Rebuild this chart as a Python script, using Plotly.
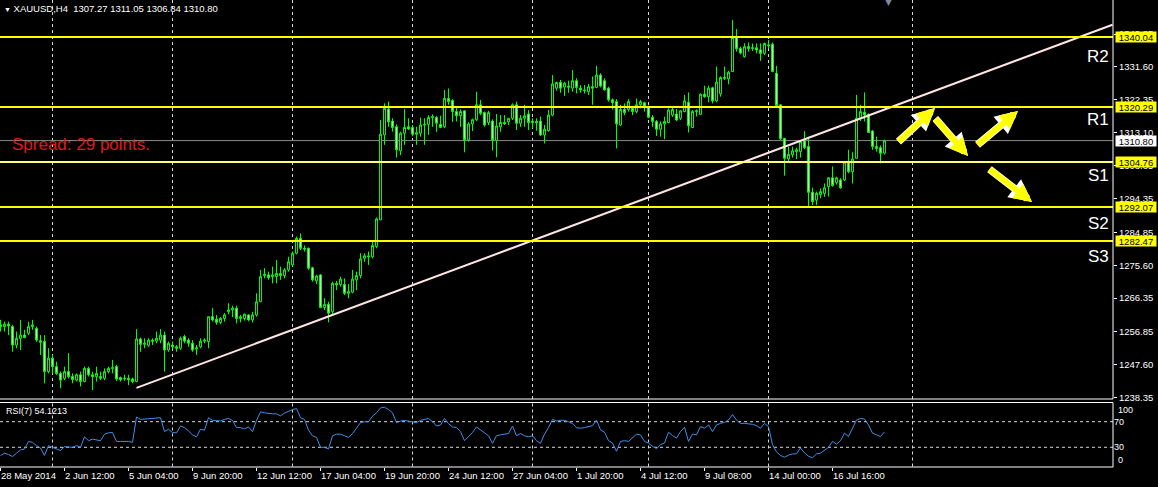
import plotly.graph_objects as go

# ---------------- data ----------------
open_ = [
    1258.8, 1258.3, 1259.0, 1258.3, 1253.1, 1255.0, 1255.9, 1256.4, 1258.3, 1257.8,
    1254.3, 1254.1, 1245.6, 1249.4, 1247.0, 1245.1, 1243.7, 1245.6, 1244.2, 1243.2,
    1244.7, 1242.8, 1246.5, 1244.7, 1244.2, 1244.2, 1243.7, 1245.6, 1246.5, 1247.0,
    1243.9, 1243.5, 1243.7, 1243.5, 1242.8, 1254.8, 1253.3, 1253.0, 1254.5, 1254.2,
    1254.5, 1255.9, 1251.7, 1253.1, 1252.6, 1252.2, 1255.5, 1254.5, 1253.6, 1252.0,
    1252.6, 1254.2, 1254.1, 1261.1, 1260.4, 1259.5, 1260.6, 1262.5, 1263.0, 1263.5,
    1260.6, 1260.6, 1261.6, 1260.2, 1261.6, 1265.3, 1272.7, 1272.9, 1272.4, 1272.4,
    1273.3, 1272.7, 1274.3, 1275.7, 1279.0, 1283.2, 1280.4, 1280.4, 1274.9, 1271.2,
    1272.9, 1263.7, 1264.6, 1262.5, 1270.5, 1270.2, 1270.2, 1267.7, 1268.0, 1271.5,
    1272.7, 1277.6, 1278.0, 1278.0, 1280.9, 1288.4, 1312.4, 1319.7, 1316.3, 1314.7,
    1307.9, 1312.9, 1314.7, 1314.5, 1312.6, 1312.9, 1315.2, 1315.4, 1317.3, 1317.3,
    1315.4, 1314.7, 1322.7, 1322.1, 1319.0, 1317.8, 1319.2, 1311.0, 1315.5, 1316.7,
    1320.9, 1318.7, 1315.9, 1316.3, 1310.8, 1314.7, 1315.9, 1316.1, 1317.1, 1320.9,
    1315.7, 1317.1, 1318.3, 1315.9, 1316.2, 1316.3, 1312.4, 1313.6, 1318.0, 1325.6,
    1327.2, 1325.9, 1326.2, 1325.6, 1327.7, 1325.6, 1325.1, 1324.6, 1326.0, 1325.8,
    1329.3, 1327.7, 1325.6, 1322.3, 1321.8, 1315.2, 1319.6, 1319.6, 1319.9, 1319.0,
    1320.9, 1321.5, 1320.4, 1317.4, 1316.2, 1314.0, 1315.5, 1315.9, 1318.0, 1318.3,
    1317.1, 1319.0, 1321.6, 1314.5, 1319.0, 1318.2, 1323.9, 1323.2, 1325.7, 1322.0,
    1324.0, 1328.6, 1328.2, 1330.3, 1339.9, 1336.8, 1334.5, 1337.3, 1336.8, 1337.0,
    1336.4, 1335.4, 1337.8, 1338.0, 1329.8, 1320.9, 1311.4, 1305.6, 1306.8, 1307.7,
    1307.7, 1310.7, 1309.1, 1296.2, 1294.0, 1295.5, 1295.9, 1297.8, 1300.3, 1299.0,
    1299.7, 1299.7, 1304.9, 1302.0, 1305.8, 1317.1, 1318.8, 1318.2, 1313.5, 1309.1,
    1308.8, 1307.27,
]
high = [
    1260.2, 1259.7, 1259.7, 1258.8, 1256.9, 1260.2, 1257.4, 1259.7, 1260.2, 1258.3,
    1255.9, 1255.9, 1252.2, 1250.3, 1248.4, 1245.6, 1247.0, 1250.8, 1245.1, 1245.1,
    1245.6, 1247.0, 1247.0, 1245.6, 1247.0, 1245.6, 1246.5, 1247.0, 1248.9, 1247.5,
    1244.2, 1244.7, 1244.7, 1243.9, 1257.6, 1255.2, 1255.0, 1255.0, 1255.0, 1256.9,
    1257.6, 1256.9, 1254.1, 1254.1, 1253.1, 1255.5, 1256.0, 1255.0, 1254.5, 1253.1,
    1255.0, 1255.0, 1261.1, 1263.5, 1261.6, 1261.0, 1262.1, 1264.9, 1264.2, 1264.2,
    1261.6, 1262.0, 1261.8, 1262.5, 1267.7, 1274.3, 1274.8, 1273.8, 1275.2, 1277.1,
    1275.2, 1274.8, 1278.0, 1279.5, 1283.7, 1284.6, 1281.2, 1280.6, 1275.2, 1272.9,
    1273.1, 1266.3, 1265.3, 1271.0, 1271.2, 1272.4, 1271.9, 1270.3, 1274.3, 1273.8,
    1279.0, 1279.0, 1279.5, 1282.3, 1289.1, 1316.6, 1321.3, 1321.8, 1317.1, 1315.4,
    1313.3, 1319.7, 1317.1, 1315.2, 1314.7, 1317.3, 1317.1, 1318.0, 1318.2, 1317.8,
    1317.8, 1325.1, 1325.5, 1322.5, 1320.4, 1319.6, 1319.4, 1316.0, 1317.0, 1324.6,
    1322.3, 1319.0, 1319.2, 1316.8, 1318.3, 1318.0, 1318.0, 1317.1, 1321.3, 1321.8,
    1318.0, 1320.9, 1319.4, 1317.1, 1317.1, 1317.6, 1315.2, 1319.4, 1329.3, 1327.4,
    1327.9, 1327.4, 1327.7, 1330.7, 1328.4, 1326.5, 1326.5, 1326.8, 1328.9, 1331.9,
    1329.8, 1328.4, 1326.0, 1322.7, 1322.5, 1320.9, 1321.3, 1322.5, 1320.4, 1322.7,
    1322.3, 1321.8, 1320.6, 1318.0, 1316.6, 1316.2, 1317.5, 1319.9, 1320.0, 1319.7,
    1319.4, 1323.7, 1324.4, 1319.4, 1319.6, 1324.1, 1326.3, 1326.3, 1326.0, 1331.7,
    1328.9, 1331.7, 1330.5, 1344.8, 1342.3, 1337.3, 1338.3, 1338.5, 1338.2, 1338.2,
    1338.2, 1338.5, 1339.2, 1338.5, 1331.9, 1321.0, 1311.6, 1309.1, 1309.1, 1308.8,
    1310.9, 1313.5, 1311.9, 1297.5, 1296.4, 1297.3, 1298.7, 1300.5, 1303.5, 1300.6,
    1300.2, 1304.9, 1308.2, 1307.5, 1323.7, 1320.9, 1324.4, 1318.5, 1313.8, 1311.9,
    1309.4, 1311.05,
]
low = [
    1256.9, 1256.9, 1255.9, 1251.2, 1252.2, 1251.7, 1255.0, 1255.9, 1257.4, 1254.0,
    1250.3, 1242.3, 1245.1, 1245.1, 1244.7, 1240.9, 1243.2, 1243.7, 1242.3, 1242.8,
    1241.4, 1242.6, 1244.2, 1240.4, 1242.8, 1243.2, 1243.2, 1245.1, 1245.1, 1242.9,
    1242.8, 1243.0, 1241.8, 1242.3, 1242.6, 1251.2, 1252.2, 1252.6, 1253.1, 1253.6,
    1253.6, 1245.6, 1251.2, 1252.0, 1251.2, 1251.7, 1253.6, 1252.6, 1251.2, 1250.3,
    1252.2, 1253.6, 1252.2, 1259.7, 1258.8, 1259.0, 1259.7, 1261.8, 1261.0, 1259.2,
    1259.5, 1260.0, 1259.8, 1259.5, 1261.1, 1265.3, 1271.9, 1271.5, 1270.5, 1270.5,
    1271.5, 1271.9, 1273.8, 1275.2, 1278.7, 1279.9, 1279.5, 1274.3, 1271.0, 1270.3,
    1263.5, 1263.0, 1259.5, 1261.6, 1268.6, 1269.6, 1267.2, 1266.3, 1267.7, 1268.6,
    1271.9, 1276.6, 1275.7, 1277.6, 1280.4, 1288.4, 1309.6, 1314.7, 1313.3, 1306.0,
    1306.7, 1309.6, 1313.8, 1312.0, 1309.6, 1311.9, 1309.6, 1312.4, 1314.7, 1313.3,
    1314.3, 1314.3, 1320.9, 1316.1, 1316.2, 1314.7, 1307.5, 1310.5, 1313.5, 1316.3,
    1318.0, 1314.7, 1315.2, 1308.0, 1306.1, 1313.3, 1315.2, 1315.2, 1316.6, 1313.8,
    1314.7, 1314.7, 1313.8, 1314.3, 1313.6, 1312.1, 1310.0, 1313.3, 1317.7, 1324.9,
    1324.3, 1323.4, 1324.3, 1324.6, 1324.1, 1324.3, 1324.1, 1323.7, 1320.9, 1325.6,
    1325.8, 1324.9, 1321.8, 1319.6, 1308.6, 1314.9, 1318.0, 1319.0, 1318.0, 1318.5,
    1319.9, 1319.0, 1317.1, 1314.7, 1312.1, 1311.9, 1311.2, 1315.7, 1317.5, 1316.3,
    1316.6, 1318.8, 1313.1, 1314.3, 1317.6, 1318.0, 1322.9, 1321.6, 1321.3, 1321.6,
    1323.2, 1327.9, 1326.7, 1330.2, 1335.9, 1335.1, 1334.2, 1335.9, 1336.1, 1335.4,
    1333.3, 1334.9, 1336.8, 1330.1, 1320.4, 1311.0, 1300.9, 1305.0, 1306.0, 1305.6,
    1306.0, 1308.4, 1291.9, 1292.6, 1292.6, 1294.5, 1294.9, 1295.0, 1297.8, 1298.4,
    1297.2, 1299.4, 1301.6, 1298.7, 1305.8, 1316.3, 1316.2, 1313.1, 1308.2, 1307.7,
    1304.4, 1306.84,
]
close = [
    1258.3, 1259.0, 1258.5, 1253.1, 1255.0, 1255.9, 1255.2, 1258.3, 1258.8, 1254.5,
    1253.9, 1245.6, 1249.4, 1247.0, 1245.1, 1243.2, 1245.6, 1244.2, 1243.4, 1244.7,
    1242.8, 1246.5, 1244.7, 1244.2, 1245.1, 1243.7, 1245.6, 1246.5, 1246.7, 1243.5,
    1243.3, 1243.7, 1243.4, 1242.8, 1254.8, 1253.3, 1253.6, 1254.5, 1254.2, 1255.0,
    1255.9, 1251.7, 1253.6, 1252.6, 1252.2, 1255.0, 1254.2, 1253.6, 1251.7, 1252.3,
    1254.2, 1254.5, 1261.1, 1260.2, 1259.5, 1260.6, 1261.6, 1263.0, 1263.5, 1260.6,
    1261.1, 1261.8, 1260.2, 1261.6, 1265.3, 1272.4, 1273.1, 1272.1, 1272.9, 1273.3,
    1272.7, 1274.3, 1276.6, 1279.0, 1283.2, 1280.4, 1280.2, 1274.8, 1271.5, 1272.6,
    1263.7, 1264.6, 1262.1, 1270.5, 1270.1, 1271.7, 1267.7, 1268.2, 1271.7, 1272.7,
    1277.4, 1278.3, 1278.2, 1281.2, 1288.7, 1312.6, 1319.9, 1316.1, 1314.5, 1308.2,
    1312.9, 1314.5, 1314.1, 1312.6, 1313.0, 1315.2, 1315.4, 1317.3, 1317.6, 1315.7,
    1314.5, 1322.7, 1321.8, 1319.0, 1317.8, 1319.0, 1311.0, 1315.5, 1316.7, 1320.9,
    1318.5, 1315.2, 1318.7, 1311.0, 1314.9, 1315.9, 1315.5, 1317.1, 1320.9, 1315.7,
    1317.1, 1317.8, 1315.9, 1316.3, 1315.9, 1312.4, 1314.0, 1318.0, 1326.8, 1327.2,
    1325.6, 1327.0, 1325.9, 1327.7, 1325.8, 1325.1, 1324.9, 1326.0, 1325.6, 1329.3,
    1326.2, 1325.1, 1322.3, 1321.5, 1315.5, 1319.6, 1318.7, 1321.8, 1319.0, 1320.9,
    1321.8, 1320.4, 1317.4, 1316.2, 1314.0, 1315.5, 1316.2, 1319.4, 1319.6, 1316.6,
    1319.2, 1322.0, 1315.0, 1319.0, 1319.2, 1323.9, 1323.2, 1325.6, 1322.0, 1327.3,
    1328.6, 1328.4, 1330.1, 1339.9, 1336.7, 1335.5, 1337.3, 1336.8, 1337.0, 1336.4,
    1335.4, 1338.2, 1337.6, 1330.3, 1320.7, 1311.3, 1305.8, 1306.9, 1307.9, 1308.2,
    1310.5, 1308.8, 1296.2, 1293.6, 1295.9, 1296.4, 1297.5, 1300.3, 1298.1, 1300.3,
    1297.5, 1304.7, 1302.0, 1305.6, 1317.1, 1319.0, 1318.0, 1313.1, 1309.1, 1308.6,
    1307.2, 1310.80,
]
rsi = [
    17.2, 20.8, 18.7, 15.6, 20.8, 25.9, 27.4, 39.2, 37.7, 32.6,
    29.0, 17.2, 32.6, 30.0, 27.4, 24.9, 31.0, 30.0, 30.0, 32.6,
    30.0, 46.4, 40.3, 42.8, 41.3, 40.3, 50.5, 52.6, 53.1, 39.2,
    39.2, 39.2, 39.2, 37.7, 77.2, 73.6, 74.1, 74.1, 74.1, 74.6,
    76.2, 54.6, 58.2, 53.1, 52.6, 63.3, 60.8, 55.7, 49.5, 46.4,
    58.2, 56.7, 76.2, 72.1, 71.0, 71.0, 73.6, 75.1, 72.1, 60.8,
    60.8, 58.7, 61.8, 54.6, 72.1, 85.4, 83.9, 82.8, 82.3, 82.3,
    79.2, 83.4, 86.4, 89.0, 90.5, 76.2, 73.6, 56.7, 48.0, 45.4,
    30.0, 30.0, 27.4, 48.0, 50.5, 50.5, 48.0, 45.4, 51.5, 60.8,
    68.5, 70.0, 70.0, 78.7, 83.9, 91.5, 92.6, 89.0, 83.9, 68.5,
    71.0, 72.1, 71.0, 70.0, 68.5, 72.1, 73.6, 75.1, 70.0, 63.3,
    64.9, 75.1, 66.9, 61.8, 60.8, 54.6, 40.3, 46.4, 53.1, 61.8,
    56.7, 53.1, 48.0, 36.2, 48.0, 49.5, 50.0, 51.5, 63.3, 48.0,
    51.5, 48.0, 46.4, 48.0, 40.3, 36.2, 50.5, 60.8, 73.6, 71.0,
    72.1, 72.1, 70.0, 66.9, 60.8, 59.8, 60.8, 61.8, 63.9, 72.6,
    57.2, 53.6, 40.3, 36.7, 23.8, 39.2, 40.3, 39.2, 44.4, 50.5,
    49.5, 39.2, 36.7, 31.5, 27.9, 34.1, 36.7, 53.6, 48.5, 44.4,
    54.6, 61.3, 39.2, 50.5, 49.5, 62.3, 59.8, 64.9, 54.6, 64.9,
    67.4, 69.0, 72.6, 81.3, 72.6, 67.4, 67.4, 66.9, 65.9, 63.9,
    59.8, 67.4, 62.3, 34.1, 22.8, 17.2, 14.6, 17.7, 19.7, 19.7,
    29.0, 21.3, 16.1, 13.6, 19.7, 20.8, 25.9, 30.0, 39.2, 34.9,
    40.3, 52.1, 46.9, 60.8, 72.6, 75.1, 74.1, 64.9, 52.1, 49.5,
    46.9, 54.1213,
]

# date axis labels (bar index -> label)
date_tick_idx = [0, 16, 32, 48, 64, 80, 96, 112, 128, 144, 160, 176, 192, 208]
date_tick_text = ["28 May 2014", "2 Jun 12:00", "5 Jun 04:00", "9 Jun 20:00",
                  "12 Jun 12:00", "17 Jun 04:00", "19 Jun 20:00", "24 Jun 12:00",
                  "27 Jun 04:00", "1 Jul 20:00", "4 Jul 12:00", "9 Jul 08:00",
                  "14 Jul 00:00", "16 Jul 16:00"]
week_start_idx = [13, 43, 73, 103, 133, 162, 192, 228]

price_ticks = [1340.85, 1331.60, 1322.35, 1313.10, 1303.85, 1294.35,
               1284.85, 1275.60, 1266.35, 1256.85, 1247.60, 1238.35]

level_values = [1340.04, 1320.29, 1304.76, 1292.07, 1282.47]
level_colors = ["#ffff00", "#ffff00", "#ffff70", "#ffff00", "#ffff00"]
level_names = ["R2", "R1", "S1", "S2", "S3"]
bid_price = 1310.80

trend_x = [34, 278]
trend_y = [1241.0, 1343.5]

symbol_text = "XAUUSD,H4  1307.27 1311.05 1306.84 1310.80"
rsi_text = "RSI(7) 54.1213"

# ---------------- layout geometry ----------------
W, H = 1158, 487
PW, PH = 1113, 467          # plot area in pixels (margins r=45, b=20)
FONT = "Liberation Sans"


def px(x):
    return x / PW


def py(y):
    return (PH - y) / PH


main_dom = [py(399), 1.0]
rsi_dom = [py(466.5), py(402.5)]

bar_idx = list(range(len(close)))

fig = go.Figure()
fig.add_trace(go.Candlestick(
    x=bar_idx, open=open_, high=high, low=low, close=close,
    xaxis="x", yaxis="y",
    increasing=dict(line=dict(color="#00ff00", width=1), fillcolor="#000000"),
    decreasing=dict(line=dict(color="#00ff00", width=1), fillcolor="#c8f8c8"),
    whiskerwidth=0, hoverinfo="skip", showlegend=False,
))
fig.add_trace(go.Scatter(
    x=trend_x, y=trend_y, mode="lines", xaxis="x", yaxis="y",
    line=dict(color="#ffe4e4", width=2), hoverinfo="skip", showlegend=False,
))
fig.add_trace(go.Scatter(
    x=bar_idx, y=rsi, mode="lines", xaxis="x", yaxis="y2",
    line=dict(color="#3f8fe6", width=1), hoverinfo="skip", showlegend=False,
))

shapes = []
# vertical dashed grid
for gi in week_start_idx:
    for yr in ("y domain", "y2 domain"):
        shapes.append(dict(type="line", xref="x", yref=yr, x0=gi, x1=gi, y0=0, y1=1,
                           line=dict(color="#d8d8d8", width=1, dash="3px,3px"), layer="below"))
# RSI levels
for lv in (30, 70):
    shapes.append(dict(type="line", xref="x domain", yref="y2", x0=0, x1=1, y0=lv, y1=lv,
                       line=dict(color="#d8d8d8", width=1, dash="3px,3px"), layer="below"))
# bid line
shapes.append(dict(type="line", xref="x domain", yref="y", x0=0, x1=1, y0=bid_price, y1=bid_price,
                   line=dict(color="#8a8a8a", width=1), layer="below"))
# support / resistance lines
for v, c in zip(level_values, level_colors):
    shapes.append(dict(type="line", xref="x domain", yref="y", x0=0, x1=1, y0=v, y1=v,
                       line=dict(color=c, width=2), layer="above"))
# frames
frame = dict(color="#ffffff", width=1)
shapes += [
    dict(type="line", xref="paper", yref="paper", x0=1, x1=1, y0=main_dom[0], y1=1, line=frame),
    dict(type="line", xref="paper", yref="paper", x0=1, x1=1, y0=0, y1=rsi_dom[1], line=frame),
    dict(type="line", xref="paper", yref="paper", x0=0, x1=1, y0=main_dom[0], y1=main_dom[0], line=frame),
    dict(type="line", xref="paper", yref="paper", x0=0, x1=1, y0=rsi_dom[1], y1=rsi_dom[1], line=frame),
    dict(type="line", xref="paper", yref="paper", x0=0, x1=1, y0=0, y1=0, line=frame),
]

ann = []
ann.append(dict(xref="paper", yref="paper", x=px(2), y=py(8), xanchor="left", yanchor="middle",
                text="<span style='font-size:7px'>▼</span> " + symbol_text, showarrow=False,
                font=dict(family=FONT, size=9.5, color="#ffffff")))
ann.append(dict(xref="paper", yref="paper", x=px(888), y=py(2), xanchor="center", yanchor="middle",
                text="▼", showarrow=False, font=dict(family="DejaVu Sans", size=9, color="#7d8da0")))
ann.append(dict(xref="paper", yref="paper", x=px(10), y=py(144), xanchor="left", yanchor="middle",
                text="Spread: 29 points.", showarrow=False,
                font=dict(family=FONT, size=17, color="#e01818")))
for name, ypix in zip(level_names, [55, 118, 174, 223, 256]):
    ann.append(dict(xref="paper", yref="paper", x=px(1111), y=py(ypix + 1), xanchor="right",
                    yanchor="middle", text=name, showarrow=False,
                    font=dict(family=FONT, size=17, color="#ffffff")))
for v in level_values:
    ann.append(dict(xref="paper", yref="y", x=1, y=v, xanchor="left", yanchor="middle", xshift=2,
                    text=f"{v:.2f}", showarrow=False, bgcolor="#ffff00", width=40, height=10,
                    borderpad=0, font=dict(family=FONT, size=9.5, color="#000000")))
ann.append(dict(xref="paper", yref="y", x=1, y=bid_price, xanchor="left", yanchor="middle", xshift=2,
                text=f"{bid_price:.2f}", showarrow=False, bgcolor="#ffffff", width=40, height=10,
                borderpad=0, font=dict(family=FONT, size=9.5, color="#000000")))
ann.append(dict(xref="paper", yref="paper", x=px(4), y=py(411), xanchor="left", yanchor="middle",
                text=rsi_text, showarrow=False, font=dict(family=FONT, size=9, color="#ffffff")))
for t, ypix in (("100", 410), ("0", 460)):
    ann.append(dict(xref="paper", yref="paper", x=px(1116), y=py(ypix), xanchor="left",
                    yanchor="middle", text=t, showarrow=False,
                    font=dict(family=FONT, size=9, color="#ffffff")))
# forecast arrows (head pixel, tail pixel)
arrows = [((935, 108), (897, 143)), ((968, 156), (934, 117)),
          ((1018, 111), (976, 146)), ((1032, 202), (988, 168))]
for (hx, hy), (tx, ty) in arrows:
    ann.append(dict(xref="paper", yref="paper", x=px(hx), y=py(hy), ax=tx - hx, ay=ty - hy,
                    text="", showarrow=True, arrowhead=2, arrowsize=0.6, arrowwidth=7.5,
                    arrowcolor="#ffffff"))
    ann.append(dict(xref="paper", yref="paper", x=px(hx), y=py(hy), ax=tx - hx, ay=ty - hy,
                    text="", showarrow=True, arrowhead=2, arrowsize=0.6, arrowwidth=6,
                    arrowcolor="#ffff00"))

fig.update_layout(
    width=W, height=H,
    margin=dict(l=0, r=W - PW, t=0, b=H - PH),
    paper_bgcolor="#000000", plot_bgcolor="#000000",
    showlegend=False,
    xaxis=dict(domain=[0, 1], range=[-0.125, 278.125], anchor="y2",
               tickvals=date_tick_idx, ticktext=date_tick_text,
               ticks="outside", ticklen=3, tickcolor="#ffffff",
               ticklabelposition="outside right",
               tickfont=dict(family=FONT, size=9.5, color="#ffffff"),
               showgrid=False, zeroline=False, showline=False,
               rangeslider=dict(visible=False), fixedrange=True),
    yaxis=dict(domain=main_dom, range=[1237.87, 1350.48], side="right", anchor="x",
               tickvals=price_ticks, ticktext=[f"{v:.2f}" for v in price_ticks],
               ticks="outside", ticklen=3, tickcolor="#ffffff",
               tickfont=dict(family=FONT, size=9.5, color="#ffffff"),
               showgrid=False, zeroline=False, showline=False),
    yaxis2=dict(domain=rsi_dom, range=[0, 100], side="right", anchor="x",
                tickvals=[30, 70], ticktext=["30", "70"], ticks="",
                tickfont=dict(family=FONT, size=9, color="#ffffff"),
                showgrid=False, zeroline=False, showline=False),
    shapes=shapes,
    annotations=ann,
)

fig.write_html("out.html", config={"displayModeBar": False},
               post_script="document.body.style.margin='0';document.body.style.background='#000';")
